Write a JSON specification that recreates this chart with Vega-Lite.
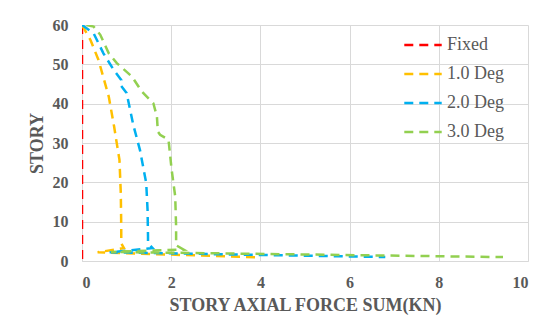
{
  "$schema": "https://vega.github.io/schema/vega-lite/v6.json",
  "width": 446,
  "height": 236,
  "autosize": {"type": "none"},
  "padding": {"left": 82, "top": 25, "right": 19, "bottom": 67},
  "background": "white",
  "config": {
    "font": "Liberation Serif",
    "view": {"stroke": null},
    "axis": {
      "labelFont": "Liberation Serif",
      "titleFont": "Liberation Serif",
      "labelColor": "#595959",
      "titleColor": "#595959",
      "labelFontWeight": "bold",
      "titleFontWeight": "bold",
      "labelFontSize": 16,
      "titleFontSize": 18,
      "gridColor": "#d9d9d9",
      "domainColor": "#d9d9d9",
      "ticks": false
    },
    "legend": {
      "labelFont": "Liberation Serif",
      "labelFontSize": 18,
      "labelColor": "#595959"
    }
  },
  "data": {
    "values": [
      {"series": "Fixed", "story": 60, "force": 0},
      {"series": "Fixed", "story": 0.5, "force": 0},
      {"series": "1.0 Deg", "story": 60, "force": 0},
      {"series": "1.0 Deg", "story": 56.2, "force": 0.19},
      {"series": "1.0 Deg", "story": 51.1, "force": 0.37},
      {"series": "1.0 Deg", "story": 41.8, "force": 0.6},
      {"series": "1.0 Deg", "story": 34.2, "force": 0.72},
      {"series": "1.0 Deg", "story": 29.9, "force": 0.78},
      {"series": "1.0 Deg", "story": 25.7, "force": 0.84},
      {"series": "1.0 Deg", "story": 17.2, "force": 0.87},
      {"series": "1.0 Deg", "story": 8.7, "force": 0.88},
      {"series": "1.0 Deg", "story": 4.5, "force": 0.88},
      {"series": "1.0 Deg", "story": 3.3, "force": 0.94},
      {"series": "1.0 Deg", "story": 2.2, "force": 0.35},
      {"series": "1.0 Deg", "story": 0.95, "force": 3.93},
      {"series": "2.0 Deg", "story": 60, "force": 0},
      {"series": "2.0 Deg", "story": 57.9, "force": 0.26},
      {"series": "2.0 Deg", "story": 52.8, "force": 0.48},
      {"series": "2.0 Deg", "story": 48.6, "force": 0.71},
      {"series": "2.0 Deg", "story": 46.0, "force": 0.88},
      {"series": "2.0 Deg", "story": 44.8, "force": 0.86},
      {"series": "2.0 Deg", "story": 42.7, "force": 1.0},
      {"series": "2.0 Deg", "story": 34.6, "force": 1.15},
      {"series": "2.0 Deg", "story": 28.2, "force": 1.3},
      {"series": "2.0 Deg", "story": 19.8, "force": 1.44},
      {"series": "2.0 Deg", "story": 13, "force": 1.47},
      {"series": "2.0 Deg", "story": 6.2, "force": 1.48},
      {"series": "2.0 Deg", "story": 4.5, "force": 1.48},
      {"series": "2.0 Deg", "story": 3.3, "force": 1.58},
      {"series": "2.0 Deg", "story": 2.2, "force": 0.62},
      {"series": "2.0 Deg", "story": 1.0, "force": 6.8},
      {"series": "3.0 Deg", "story": 60, "force": 0.1},
      {"series": "3.0 Deg", "story": 59.6, "force": 0.26},
      {"series": "3.0 Deg", "story": 57.5, "force": 0.41},
      {"series": "3.0 Deg", "story": 52.8, "force": 0.6},
      {"series": "3.0 Deg", "story": 50.3, "force": 0.78},
      {"series": "3.0 Deg", "story": 46.9, "force": 1.12},
      {"series": "3.0 Deg", "story": 43.1, "force": 1.34},
      {"series": "3.0 Deg", "story": 40.1, "force": 1.6},
      {"series": "3.0 Deg", "story": 36.7, "force": 1.68},
      {"series": "3.0 Deg", "story": 32.9, "force": 1.7},
      {"series": "3.0 Deg", "story": 32.1, "force": 1.75},
      {"series": "3.0 Deg", "story": 30.8, "force": 1.94},
      {"series": "3.0 Deg", "story": 23.2, "force": 2.01},
      {"series": "3.0 Deg", "story": 16.4, "force": 2.09},
      {"series": "3.0 Deg", "story": 8.7, "force": 2.11},
      {"series": "3.0 Deg", "story": 4, "force": 2.11},
      {"series": "3.0 Deg", "story": 2.9, "force": 2.28},
      {"series": "3.0 Deg", "story": 2.3, "force": 0.65},
      {"series": "3.0 Deg", "story": 1.0, "force": 9.44}
    ]
  },
  "mark": {"type": "line", "strokeWidth": 2.5, "strokeDash": [9, 6], "clip": true},
  "encoding": {
    "x": {
      "field": "force",
      "type": "quantitative",
      "scale": {"domain": [0, 10], "nice": false},
      "axis": {"values": [0, 2, 4, 6, 8, 10], "title": "STORY AXIAL FORCE SUM(KN)", "labelPadding": 13, "titlePadding": 6, "labelFont": "Liberation Serif", "labelFontWeight": "bold"}
    },
    "y": {
      "field": "story",
      "type": "quantitative",
      "scale": {"domain": [0, 60], "nice": false},
      "axis": {"values": [0, 10, 20, 30, 40, 50, 60], "title": "STORY", "labelPadding": 14, "titlePadding": 6, "labelFont": "Liberation Serif", "labelFontWeight": "bold"}
    },
    "order": {"field": "story", "sort": "descending"},
    "color": {
      "field": "series",
      "type": "nominal",
      "scale": {
        "domain": ["Fixed", "1.0 Deg", "2.0 Deg", "3.0 Deg"],
        "range": ["#FF0000", "#FFC000", "#00B0F0", "#92D050"]
      },
      "legend": {
        "title": null,
        "orient": "none",
        "legendX": 321,
        "legendY": 0,
        "symbolType": "stroke",
        "symbolSize": 1400,
        "symbolStrokeWidth": 2.5,
        "symbolDash": [9, 6],
        "rowPadding": -9,
        "labelOffset": 4
      }
    }
  }
}
